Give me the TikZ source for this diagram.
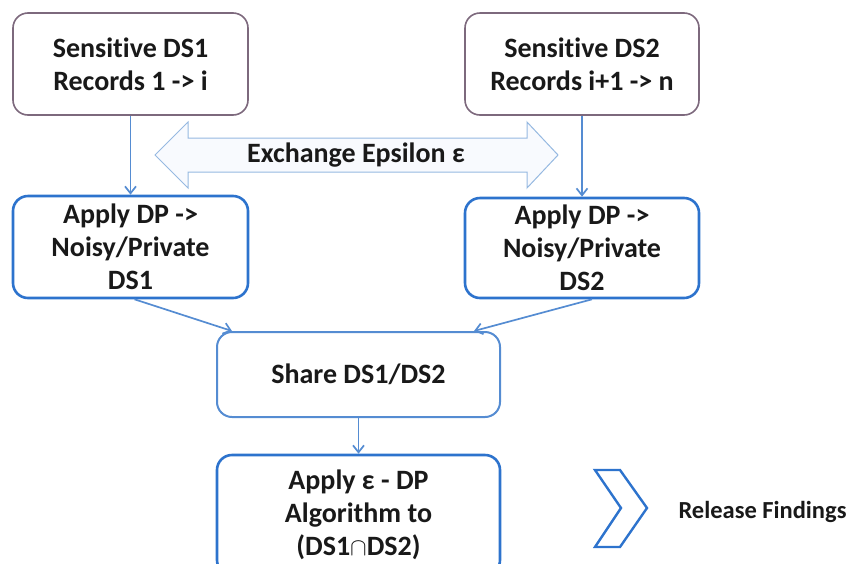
\documentclass[tikz,border=0pt]{standalone}
\usepackage{fontspec}
\setmainfont[Ligatures=NoCommon]{Carlito}
\usetikzlibrary{calc,arrows.meta}
\definecolor{mauve}{RGB}{125,105,125}
\definecolor{boxblue}{RGB}{45,115,205}
\definecolor{lineblue}{RGB}{85,140,210}
\definecolor{paleblue}{RGB}{150,185,225}
\definecolor{txt}{RGB}{25,25,25}
\tikzset{
  box/.style={draw, rounded corners=15pt, align=center, font=\fontsize{28}{33}\selectfont\bfseries, text=txt, fill=white},
  topbox/.style={box, draw=mauve, line width=1.6pt},
  dpbox/.style={box, draw=boxblue, line width=2.6pt},
  sharebox/.style={box, draw=lineblue, line width=2pt},
  flow/.style={draw=lineblue, line width=1.7pt, -{Straight Barb[length=7pt,width=11pt]}},
}
\begin{document}
\begin{tikzpicture}[x=1pt,y=-1pt]
\useasboundingbox (0,0) rectangle (853,563);
\clip (0,0) rectangle (853,563);
\node[topbox, minimum width=235pt, minimum height=102pt] (S1) at (130.5,64) {Sensitive DS1\\Records 1 -> i};
\node[topbox, minimum width=234pt, minimum height=102pt] (S2) at (582,64) {Sensitive DS2\\Records i+1 -> n};
\node[dpbox, minimum width=235pt, minimum height=102pt] (A1) at (130.5,247) {Apply DP ->\\Noisy/Private\\DS1};
\node[dpbox, minimum width=234pt, minimum height=100pt] (A2) at (582,248) {Apply DP ->\\Noisy/Private\\DS2};
\node[sharebox, minimum width=283pt, minimum height=85pt] (Sh) at (358.5,374.5) {Share DS1/DS2};
\node[dpbox, minimum width=283pt, minimum height=120pt] (Al) at (358.5,515) {Apply ε - DP\\Algorithm to\\(DS1$\cap$DS2)};
% exchange double arrow
\draw[draw=paleblue, line width=1pt, fill={rgb,255:red,248;green,250;blue,254}]
  (155,155) -- (188,122) -- (188,138) -- (527,138) -- (527,122) -- (558,155)
  -- (527,188) -- (527,172) -- (188,172) -- (188,188) -- cycle;
\node[font=\fontsize{28}{33}\selectfont\bfseries, text=txt] (EX) at (356,155) {Exchange Epsilon ε};
% flows
\draw[flow] (S1.south) -- (A1.north);
\draw[flow] (S2.south) -- (A2.north);
\coordinate (a1o) at ($(A1.south)+(4,0)$);
\coordinate (sh1) at ($(Sh.north west)+(16,0)$);
\coordinate (a2o) at ($(A2.south)+(10,0)$);
\coordinate (sh2) at ($(Sh.north east)+(-27,0)$);
\draw[flow] (a1o) -- (sh1);
\draw[flow] (a2o) -- (sh2);
\draw[flow] (Sh.south) -- (Al.north);
% chevron
\draw[draw=boxblue, line width=2.4pt, line join=miter, fill=white]
  (595,470) -- (620,470) -- (647,508) -- (620,547) -- (595,547) -- (621,508) -- cycle;
\node[font=\fontsize{24.5}{28}\selectfont\bfseries, text=txt, anchor=west] (RF) at (675,512) {Release Findings};
\end{tikzpicture}
\end{document}
